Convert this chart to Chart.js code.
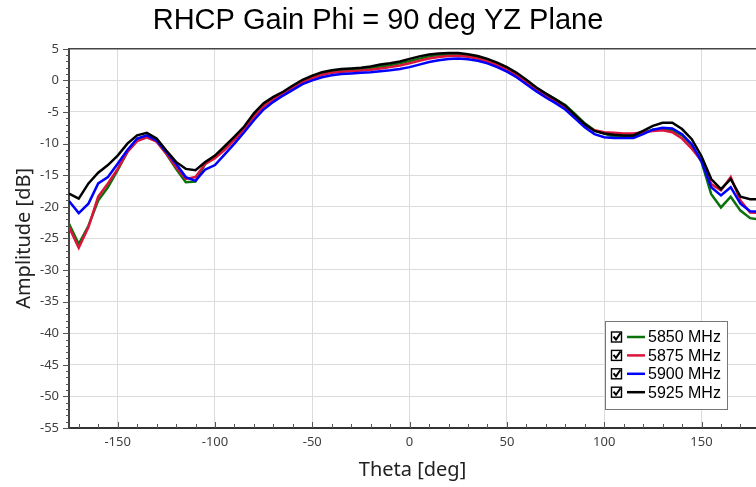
<!DOCTYPE html>
<html>
<head>
<meta charset="utf-8">
<script src="https://cdn.jsdelivr.net/npm/chart.js@4.4.0/dist/chart.umd.min.js"></script>
<style>
  html, body { margin: 0; padding: 0; background: #fff; }
  #wrap { width: 756px; height: 487px; position: relative; }
</style>
</head>
<body>
<div id="wrap"><canvas id="chart"></canvas></div>
<script>
const theta = [-175, -170, -165, -160, -155, -150, -145, -140, -135, -130, -125, -120,
  -115, -110, -105, -100, -95, -90, -85, -80, -75, -70, -65, -60, -55, -50, -45, -40,
  -35, -30, -25, -20, -15, -10, -5, 0, 5, 10, 15, 20, 25, 30, 35, 40, 45, 50, 55, 60,
  65, 70, 75, 80, 85, 90, 95, 100, 105, 110, 115, 120, 125, 130, 135, 140, 145, 150,
  155, 160, 165, 170, 175, 180];

const gain5850 = [-22.7, -25.9, -23.0, -19.0, -16.9, -14.2, -11.3, -9.4, -8.9, -9.6, -11.6, -14.0,
  -16.1, -16.0, -13.2, -12.1, -10.7, -9.2, -7.5, -5.5, -3.8, -2.8, -1.9, -1.0, -0.1, 0.55, 1.1, 1.4,
  1.6, 1.7, 1.8, 2.0, 2.2, 2.4, 2.7, 3.05, 3.45, 3.8, 4.0, 4.1, 4.1, 3.95, 3.65, 3.2, 2.6, 1.9, 1.0, -0.1,
  -1.2, -2.1, -3.0, -3.9, -5.3, -6.8, -7.9, -8.4, -8.9, -9.0, -9.0, -8.3, -7.8, -7.7, -7.9, -8.7, -10.3, -12.9,
  -18.0, -20.1, -18.4, -20.6, -21.8, -22.0];

const gain5875 = [-23.2, -26.5, -23.2, -18.4, -16.3, -14.0, -11.3, -9.6, -9.0, -9.7, -11.6, -13.7,
  -15.6, -15.3, -13.2, -12.3, -11.0, -9.4, -7.7, -5.8, -4.1, -3.0, -2.1, -1.2, -0.3, 0.35, 0.9, 1.2,
  1.35, 1.45, 1.55, 1.7, 1.9, 2.1, 2.35, 2.7, 3.1, 3.45, 3.7, 3.85, 3.9, 3.75, 3.45, 3.0, 2.4, 1.7, 0.8, -0.3,
  -1.4, -2.4, -3.3, -4.3, -5.8, -7.1, -7.9, -8.2, -8.3, -8.4, -8.4, -8.2, -8.0, -7.9, -8.2, -9.2, -10.8, -12.7,
  -16.4, -17.4, -15.3, -19.0, -20.9, -21.0];

const gain5900 = [-19.1, -21.0, -19.5, -16.3, -15.3, -13.2, -11.0, -9.2, -8.7, -9.5, -11.3, -13.2,
  -15.3, -15.9, -14.1, -13.4, -11.7, -10.0, -8.2, -6.3, -4.6, -3.4, -2.4, -1.5, -0.6, 0.0, 0.5, 0.8,
  1.0, 1.1, 1.2, 1.3, 1.45, 1.6, 1.8, 2.1, 2.5, 2.9, 3.2, 3.4, 3.45, 3.35, 3.1, 2.7, 2.1, 1.4, 0.5, -0.6,
  -1.7, -2.7, -3.6, -4.6, -6.0, -7.4, -8.5, -9.0, -9.1, -9.1, -9.1, -8.5, -7.8, -7.5, -7.6, -8.5, -10.1, -12.8,
  -16.9, -18.2, -16.9, -19.5, -20.7, -20.8];

const gain5925 = [-17.9, -18.7, -16.3, -14.6, -13.4, -11.9, -10.0, -8.7, -8.3, -9.2, -11.1, -12.9,
  -14.0, -14.2, -12.9, -11.9, -10.4, -8.9, -7.3, -5.2, -3.6, -2.6, -1.8, -0.8, 0.1, 0.75, 1.3, 1.6,
  1.8, 1.9, 2.0, 2.2, 2.5, 2.7, 3.0, 3.4, 3.8, 4.1, 4.25, 4.35, 4.35, 4.15, 3.85, 3.4, 2.8, 2.1, 1.2, 0.1,
  -1.1, -2.1, -3.0, -4.0, -5.5, -6.9, -8.0, -8.4, -8.6, -8.7, -8.7, -8.0, -7.2, -6.7, -6.7, -7.7, -9.3, -12.0,
  -15.6, -17.2, -15.6, -18.4, -18.8, -18.8];

const seriesLabels = ['5850 MHz', '5875 MHz', '5900 MHz', '5925 MHz'];
const seriesColors = ['#0b720b', '#dc143c', '#0000ff', '#000000'];
const seriesValues = [gain5850, gain5875, gain5900, gain5925];

const toPoints = vals => theta.map((t, i) => ({ x: t, y: vals[i] }));

// axes frame, minor ticks and the checkbox legend
const framePlugin = {
  id: 'frame',
  afterDraw(chart) {
    const { ctx, chartArea: a, scales: { x, y } } = chart;
    ctx.save();

    ctx.strokeStyle = '#444';
    ctx.lineWidth = 1.5;
    ctx.beginPath();
    ctx.moveTo(a.left, a.top);
    ctx.lineTo(a.right, a.top);
    ctx.stroke();

    ctx.strokeStyle = '#555';
    ctx.lineWidth = 1;
    for (let v = -170; v <= 170; v += 10) {
      const px = Math.round(x.getPixelForValue(v)) + 0.5;
      const len = v % 50 === 0 ? 6 : 4;
      ctx.beginPath();
      ctx.moveTo(px, a.bottom);
      ctx.lineTo(px, a.bottom - len);
      ctx.stroke();
    }
    for (let v = -55; v <= 5; v++) {
      const py = Math.round(y.getPixelForValue(v)) + 0.5;
      const len = v % 5 === 0 ? 6 : 3;
      ctx.beginPath();
      ctx.moveTo(a.left, py);
      ctx.lineTo(a.left - len, py);
      ctx.stroke();
    }

    // legend
    const bx = 605, by = 321, bw = 122, bh = 88;
    ctx.fillStyle = '#fff';
    ctx.fillRect(bx, by, bw, bh);
    ctx.strokeStyle = '#777';
    ctx.lineWidth = 1;
    ctx.strokeRect(bx + 0.5, by + 0.5, bw, bh);
    ctx.font = '16px "Liberation Sans", Arial, sans-serif';
    ctx.textBaseline = 'middle';
    chart.data.datasets.forEach((ds, i) => {
      const ry = by + 16 + i * 18.4;
      // checkbox
      ctx.strokeStyle = '#000';
      ctx.lineWidth = 1.4;
      ctx.strokeRect(bx + 6.5, ry - 5, 10, 10);
      ctx.lineWidth = 2;
      ctx.beginPath();
      ctx.moveTo(bx + 8.5, ry - 0.5);
      ctx.lineTo(bx + 11, ry + 2.5);
      ctx.lineTo(bx + 15.5, ry - 4);
      ctx.stroke();
      // line sample
      ctx.strokeStyle = ds.borderColor;
      ctx.lineWidth = 2.5;
      ctx.beginPath();
      ctx.moveTo(bx + 22, ry);
      ctx.lineTo(bx + 40, ry);
      ctx.stroke();
      ctx.fillStyle = '#000';
      ctx.fillText(ds.label, bx + 43, ry + 1);
    });
    ctx.restore();
  }
};

const ctx = document.getElementById('chart').getContext('2d');
new Chart(ctx, {
  type: 'line',
  data: {
    datasets: seriesValues.map((vals, i) => ({
      label: seriesLabels[i],
      data: toPoints(vals),
      borderColor: seriesColors[i],
      backgroundColor: seriesColors[i],
      borderWidth: 2.5,
      pointRadius: 0,
      tension: 0,
      order: 3 - i,
    })),
  },
  options: {
    responsive: true,
    maintainAspectRatio: false,
    animation: false,
    events: [],
    layout: { padding: 0 },
    plugins: {
      legend: { display: false },
      tooltip: { enabled: false },
      title: {
        display: true,
        text: 'RHCP Gain Phi = 90 deg YZ Plane',
        color: '#000',
        font: { family: '"Liberation Sans", Arial, sans-serif', size: 29, weight: 'normal' },
        padding: { top: 4, bottom: 10 },
      },
    },
    scales: {
      x: {
        type: 'linear',
        min: -175,
        max: 178,
        ticks: {
          stepSize: 50,
          includeBounds: false,
          color: '#404040',
          padding: 6,
          maxRotation: 0,
          font: { family: '"Noto Sans", sans-serif', size: 13 },
        },
        grid: { color: '#dcdcdc', lineWidth: 1, drawTicks: false },
        border: { color: '#333', width: 2 },
        title: {
          display: true,
          text: 'Theta [deg]',
          color: '#222',
          font: { family: '"Noto Sans", sans-serif', size: 20 },
          padding: { top: 0, bottom: 5 },
        },
        afterFit: scale => { scale.height = 59; },
      },
      y: {
        type: 'linear',
        min: -55,
        max: 5,
        ticks: {
          stepSize: 5,
          color: '#404040',
          padding: 10,
          font: { family: '"Noto Sans", sans-serif', size: 13 },
        },
        grid: { color: '#dcdcdc', lineWidth: 1, drawTicks: false },
        border: { color: '#444', width: 2 },
        title: {
          display: true,
          text: 'Amplitude [dB]',
          color: '#222',
          font: { family: '"Noto Sans", sans-serif', size: 20 },
          padding: { top: 12, bottom: 0 },
        },
        afterFit: scale => { scale.width = 69; },
      },
    },
  },
  plugins: [framePlugin],
});
</script>
</body>
</html>
